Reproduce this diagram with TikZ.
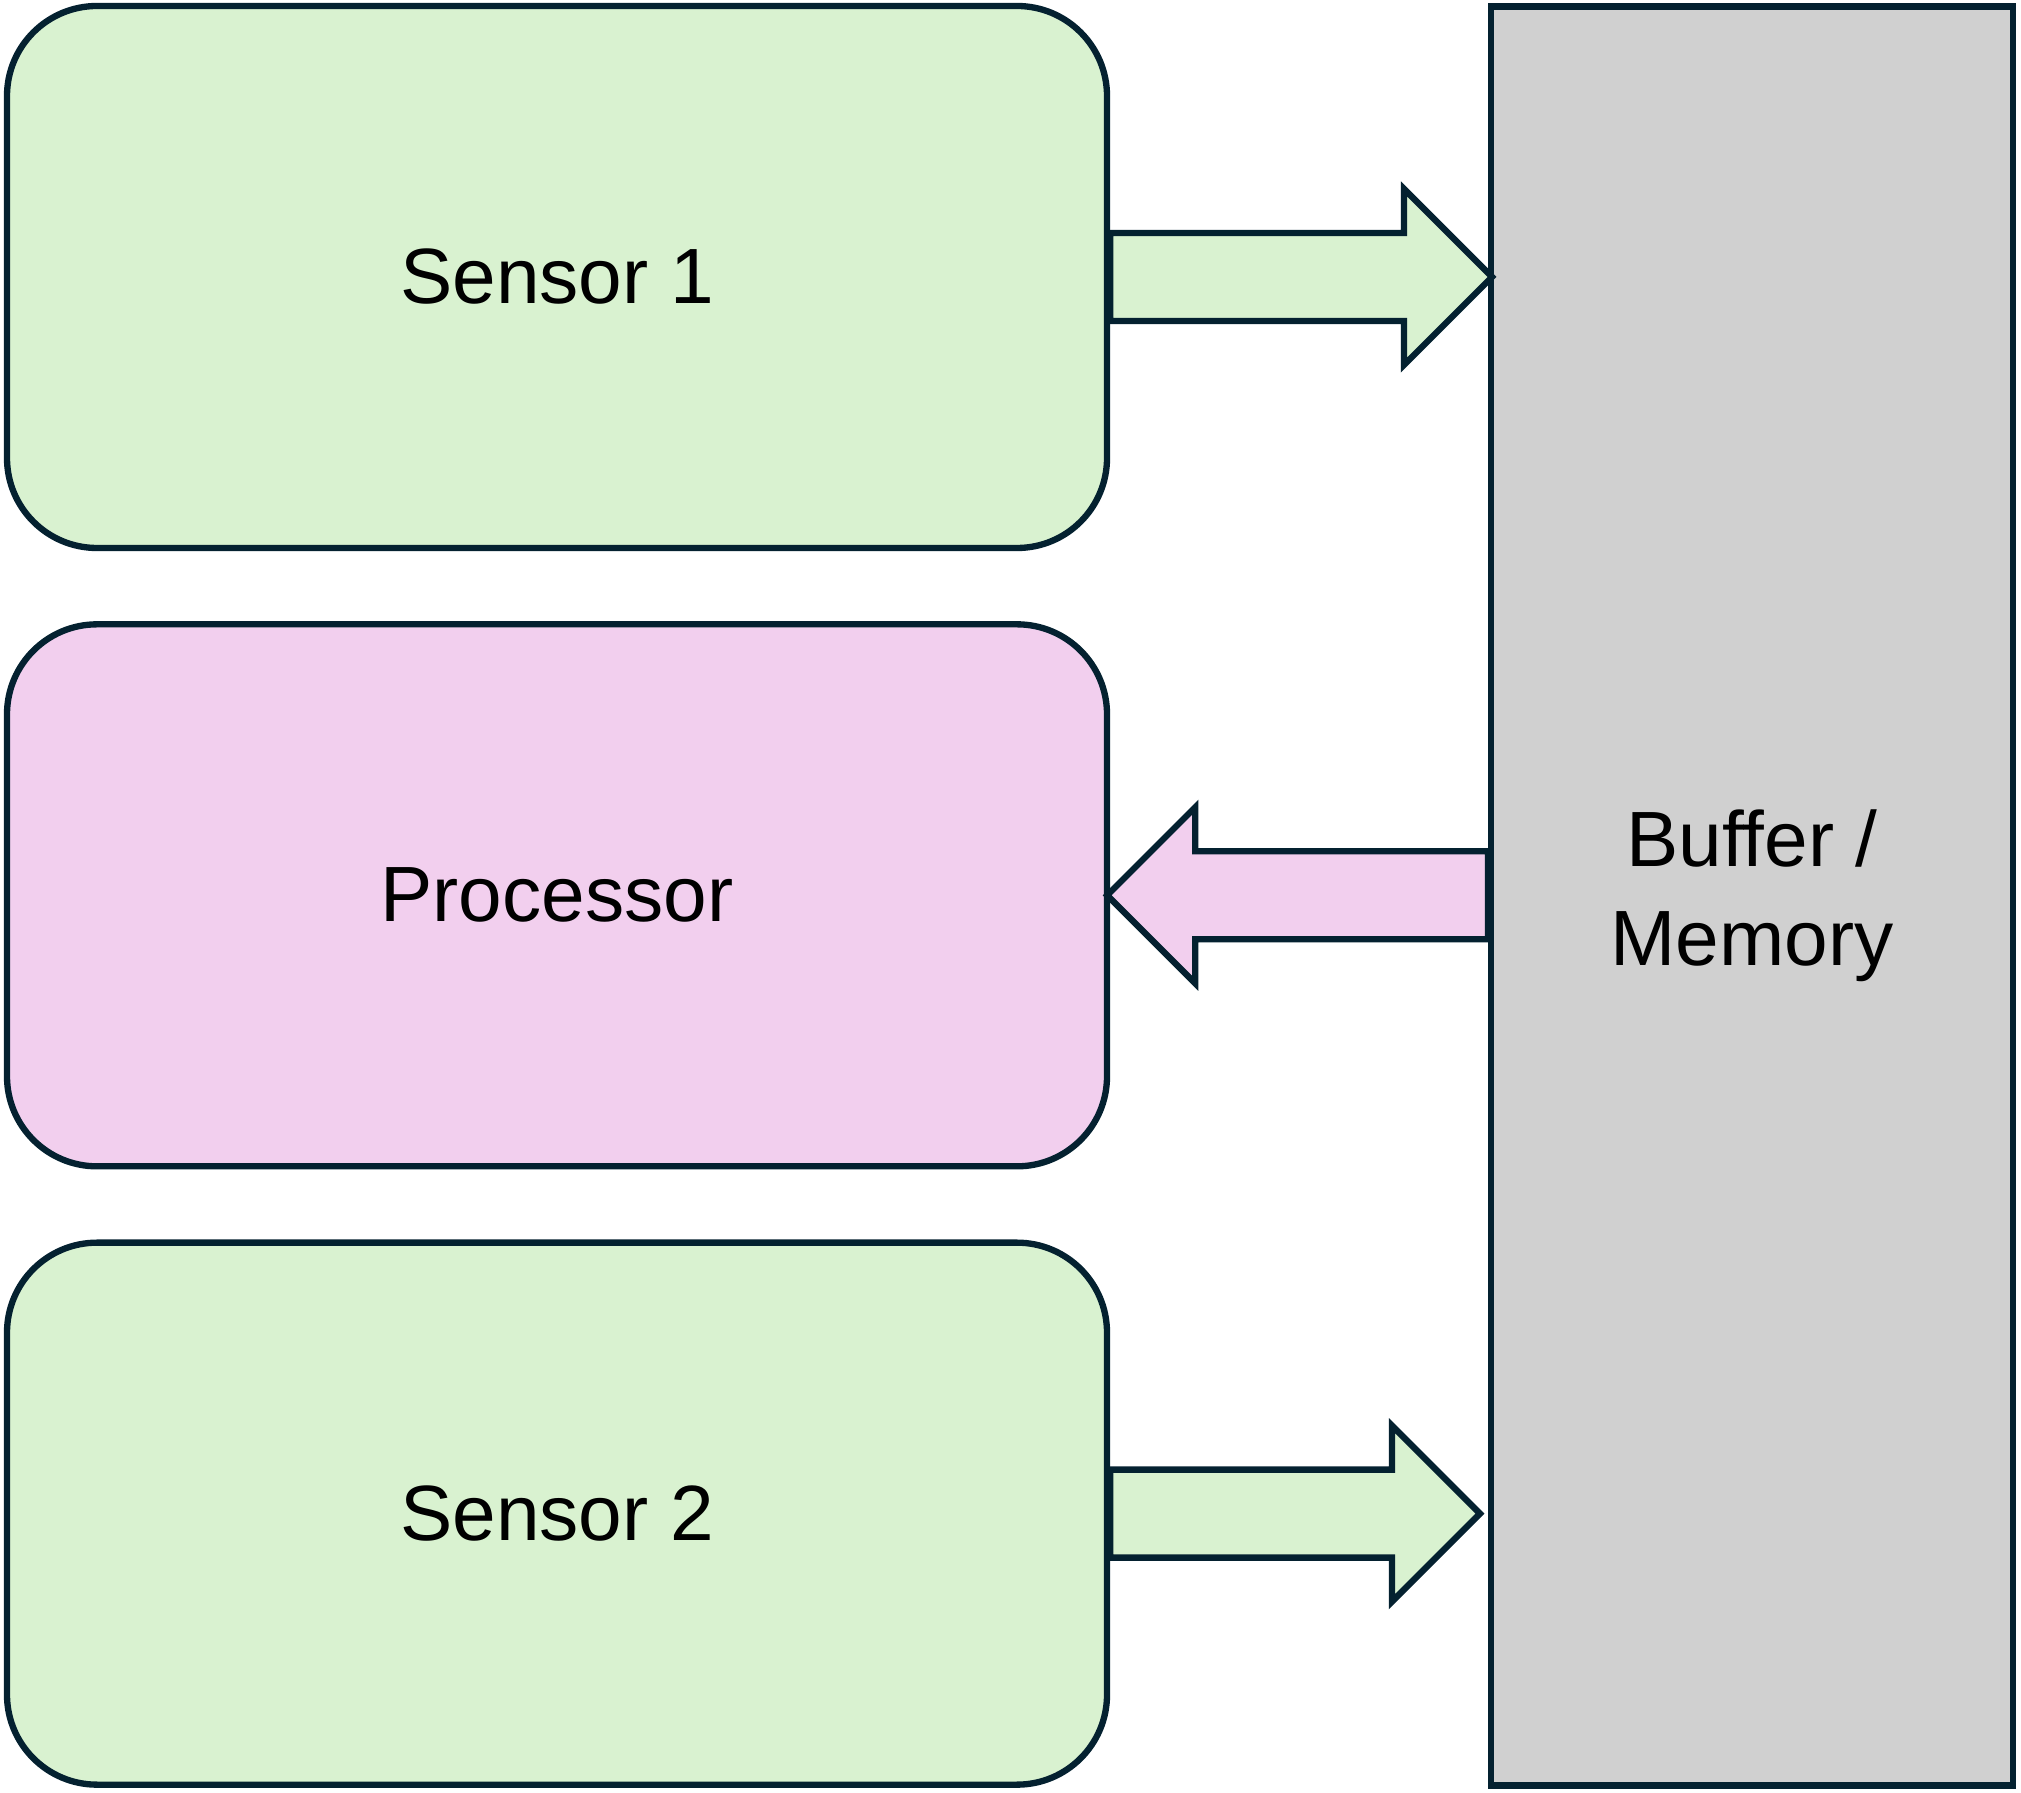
\documentclass[tikz,border=0pt]{standalone}
\usepackage{fontspec}
\setmainfont{Liberation Sans}
\usetikzlibrary{positioning, calc}
\definecolor{diagstroke}{RGB}{4,33,48}
\definecolor{sensorgreen}{RGB}{217,242,208}
\definecolor{procpink}{RGB}{242,207,238}
\definecolor{buffergray}{RGB}{208,208,208}

% block arrow: fill, from, to
\newcommand{\fatarrow}[3]{%
  \draw[flow, fill=#1] let \p1=(#2), \p2=(#3), \n1={ifthenelse(\x2>\x1,1,-1)} in
    (\x1,{\y1+0.44cm}) -- ({\x2-\n1*0.88cm},{\y1+0.44cm}) -- ({\x2-\n1*0.88cm},{\y1+0.88cm})
    -- (\x2,\y1) -- ({\x2-\n1*0.88cm},{\y1-0.88cm}) -- ({\x2-\n1*0.88cm},{\y1-0.44cm})
    -- (\x1,{\y1-0.44cm}) -- cycle;%
}

\begin{document}
\begin{tikzpicture}[
        node distance=0.70cm,
        unit/.style={draw=diagstroke, line width=1.8pt, rounded corners=0.9cm, minimum width=11.0cm, minimum height=5.42cm, align=center, font=\fontsize{22.3}{28.2}\selectfont},
        store/.style={draw=diagstroke, line width=1.8pt, fill=buffergray, minimum width=5.22cm, minimum height=17.79cm, align=center, font=\fontsize{22.3}{28.2}\selectfont},
        flow/.style={draw=diagstroke, line width=1.8pt, line join=miter}
    ]
        \useasboundingbox (0,0) rectangle (20.21,17.92);

        % Sensors and processor
        \node[unit, fill=sensorgreen] (sensor1) at (5.57,15.15) {Sensor 1};
        \node[unit, fill=procpink, below=of sensor1] (proc) {Processor};
        \node[unit, fill=sensorgreen, below=of proc] (sensor2) {Sensor 2};

        % Shared memory
        \node[store, anchor=west] (buffer) at (14.88,8.96) {Buffer /\\Memory};

        % Data flow
        \fatarrow{sensorgreen}{sensor1.east}{[xshift=0.04cm]buffer.west |- sensor1.east}
        \fatarrow{procpink}{buffer.west |- proc.east}{[xshift=-0.03cm]proc.east}
        \fatarrow{sensorgreen}{sensor2.east}{[xshift=-0.08cm]buffer.west |- sensor2.east}
    \end{tikzpicture}
\end{document}
